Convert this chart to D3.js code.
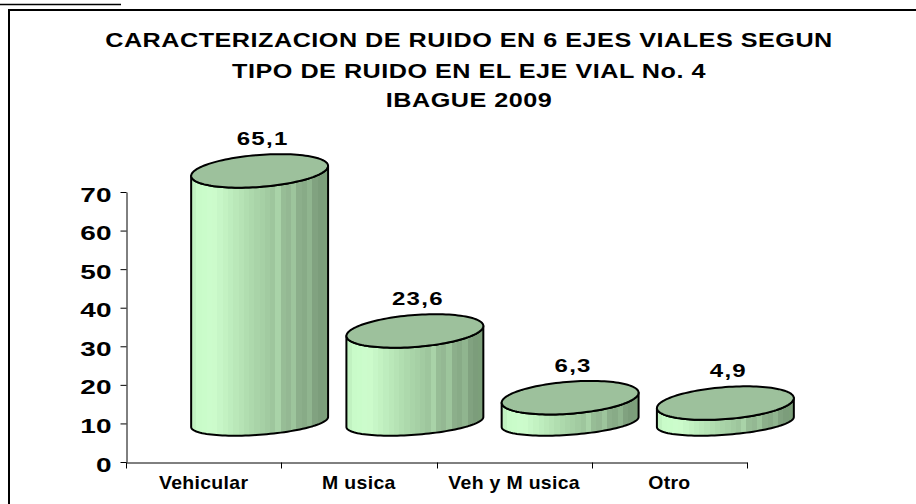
<!DOCTYPE html>
<html>
<head>
<meta charset="utf-8">
<script src="https://cdn.jsdelivr.net/npm/d3@7"></script>
<style>
  html, body { margin: 0; padding: 0; background: #fff; }
  svg { display: block; }
  text { font-family: "Liberation Sans", Arial, sans-serif; font-weight: bold; fill: #000; }
</style>
</head>
<body>
<svg id="chart" width="916" height="504"></svg>
<script>
// Ruido por tipo, eje vial No. 4 (Ibague 2009)
const titleLines = [
  "CARACTERIZACION DE RUIDO EN 6 EJES VIALES SEGUN",
  "TIPO DE RUIDO EN EL EJE VIAL No. 4",
  "IBAGUE 2009"
];
const categories = ["Vehicular", "M usica", "Veh y M usica", "Otro"];
const values = [65.1, 23.6, 6.3, 4.9];
const yTicks = [0, 10, 20, 30, 40, 50, 60, 70];

const W = 916, H = 504;
const svg = d3.select("#chart");

const x = d3.scaleBand().domain(categories).range([126, 747]).paddingInner(0).paddingOuter(0);
const y = d3.scaleLinear().domain([0, 70]).range([462, 192]);

// 3D offset of the cylinders relative to the axis plane
const depthX = 56, depthY = -40;
const shear = 5;

const fmt = d3.formatLocale({ decimal: ",", thousands: ".", grouping: [3], currency: ["$", ""] }).format(".1f");

// stretched text, like the resized Excel picture
function stext(g, str, tx, ty, size, sx, anchor, ls) {
  return g.append("text")
    .attr("transform", `translate(${tx},${ty}) scale(${sx},1)`)
    .attr("text-anchor", anchor || "middle")
    .style("font-size", size + "px")
    .style("letter-spacing", (ls || 0) + "px")
    .text(str);
}

// frame
svg.append("path").attr("d", `M0,4.5H121`).attr("stroke", "#000").attr("stroke-width", 1.5).attr("fill", "none");
svg.append("path").attr("d", `M9,${H + 5}V10H${W + 5}`).attr("stroke", "#000").attr("stroke-width", 2).attr("fill", "none");

// title
const titleY = [46.5, 78, 107];
titleLines.forEach((t, i) => stext(svg, t, 469, titleY[i], 20, 1.26, "middle", 0.4));

// side gradient with vertical stripes
const defs = svg.append("defs");
const grad = defs.append("linearGradient").attr("id", "side").attr("x1", 0).attr("x2", 1).attr("y1", 0).attr("y2", 0);
const shade = d3.scaleLinear()
  .domain([0, 0.06, 0.16, 0.45, 0.72, 0.94, 1])
  .range(["#bdeebd", "#c9fbc9", "#cdfdcd", "#acd8ab", "#93b792", "#7d9e7c", "#6c8b6b"]);
const nBands = 26;
for (let i = 0; i < nBands; i++) {
  const a = i / nBands, b = (i + 1) / nBands;
  let c = d3.color(shade((a + b) / 2));
  if (i % 3 === 1 && a > 0.55) c = c.brighter(0.25);
  grad.append("stop").attr("offset", a).attr("stop-color", c.formatHex());
  grad.append("stop").attr("offset", b).attr("stop-color", c.formatHex());
}

function ePt(cx, cy, rx, ry, t) {
  return [cx + rx * Math.cos(t), cy + ry * Math.sin(t) - shear * Math.cos(t)];
}
function arcPts(cx, cy, rx, ry, t0, t1, n) {
  const pts = [];
  for (let i = 0; i <= n; i++) pts.push(ePt(cx, cy, rx, ry, t0 + (t1 - t0) * i / n));
  return pts;
}

const rx = x.bandwidth() * 0.441;
const ryTop = 16, ryBot = 12.8;
const cyl = svg.append("g");
const line = d3.line();

categories.forEach((cat, i) => {
  const cx = x(cat) + x.bandwidth() / 2 + depthX;
  const cyB = y(0) + depthY;
  const cyT = y(values[i]) + depthY;
  const g = cyl.append("g");

  const side = [
    ...arcPts(cx, cyB, rx, ryBot, Math.PI, 0, 60),
    ...arcPts(cx, cyT, rx, ryTop, 0, Math.PI, 60)
  ];
  g.append("path")
    .attr("d", line(side) + "Z")
    .attr("fill", "url(#side)")
    .attr("stroke", "#000").attr("stroke-width", 2).attr("stroke-linejoin", "round");

  g.append("path")
    .attr("d", line(arcPts(cx, cyT, rx, ryTop, 0, 2 * Math.PI, 120)) + "Z")
    .attr("fill", "#9dc19c")
    .attr("stroke", "#000").attr("stroke-width", 2).attr("stroke-linejoin", "round");

  stext(svg, fmt(values[i]), cx + 3, cyT - 26, 18.5, 1.3, "middle", 1);
});

// y axis
const yAxis = svg.append("g")
  .attr("transform", "translate(126.5,0)")
  .call(d3.axisLeft(y).tickValues(yTicks).tickSize(6).tickSizeOuter(0).tickFormat(d3.format("d")));
yAxis.select(".domain").attr("stroke", "#000");
yAxis.selectAll(".tick line").attr("stroke", "#000");
yAxis.selectAll(".tick text")
  .attr("x", null).attr("dy", null)
  .attr("transform", "translate(-15,9) scale(1.4,1)")
  .attr("text-anchor", "end")
  .style("font-size", "20px")
  .style("font-family", null);

// x axis
const xAxis = svg.append("g")
  .attr("transform", "translate(0,462.5)")
  .call(d3.axisBottom(x).tickSize(0).tickSizeOuter(0));
xAxis.select(".domain").attr("stroke", "#000");
xAxis.selectAll(".tick text").remove();
const bounds = categories.map(c => x(c)).concat([x.range()[1]]);
xAxis.selectAll("line.bound").data(bounds).enter().append("line")
  .attr("class", "bound")
  .attr("x1", d => Math.round(d) + 0.5).attr("x2", d => Math.round(d) + 0.5)
  .attr("y1", 0).attr("y2", 6)
  .attr("stroke", "#000");
categories.forEach(c => stext(svg, c, x(c) + x.bandwidth() / 2, 489, 18, 1.08, "middle", 0.3));
</script>
</body>
</html>
